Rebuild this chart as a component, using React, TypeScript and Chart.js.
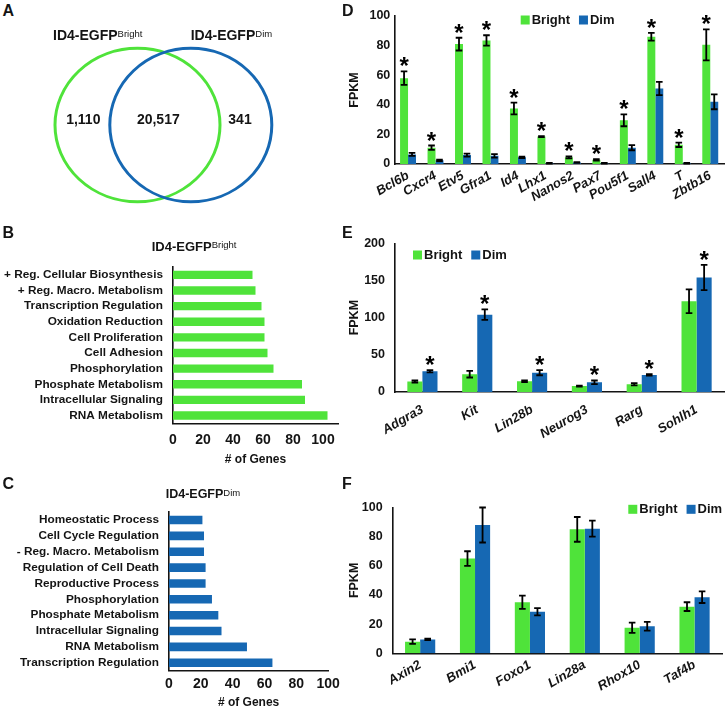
import React, { useEffect, useRef } from 'react';
import { Chart, registerables } from 'chart.js';

Chart.register(...registerables);

const FONT = '"Liberation Sans", Arial, Helvetica, sans-serif';
const GREEN = '#4fe33a';
const BLUE = '#1668b3';
const INK = '#141414';

// ---------- Panel A: Venn ----------
const vennSetLabels = ['Bright', 'Dim'];
const vennCenterX = [97.5, 150.8];
const vennCenterY = [85, 85];
const vennRadiusX = [82.5, 81];
const vennRadiusY = [76.7, 76.7];
const vennCounts = ['1,110', '20,517', '341'];
const vennCountX = [43.3, 118.3, 200];
const vennCountY = [80, 80, 80];

// ---------- Panels B / C ----------
const geneTicks = [0, 20, 40, 60, 80, 100];

const bTerms = [
  '+ Reg. Cellular Biosynthesis',
  '+ Reg. Macro. Metabolism',
  'Transcription Regulation',
  'Oxidation Reduction',
  'Cell Proliferation',
  'Cell Adhesion',
  'Phosphorylation',
  'Phosphate Metabolism',
  'Intracellular Signaling',
  'RNA Metabolism',
];
const bGenes = [53, 55, 59, 61, 61, 63, 67, 86, 88, 103];

const cTerms = [
  'Homeostatic Process',
  'Cell Cycle Regulation',
  '- Reg. Macro. Metabolism',
  'Regulation of Cell Death',
  'Reproductive Process',
  'Phosphorylation',
  'Phosphate Metabolism',
  'Intracellular Signaling',
  'RNA Metabolism',
  'Transcription Regulation',
];
const cGenes = [21, 22, 22, 23, 23, 27, 31, 33, 49, 65];

// ---------- Panel D ----------
const dGenes = ['Bcl6b', 'Cxcr4', 'Etv5', 'Gfra1', 'Id4', 'Lhx1', 'Nanos2', 'Pax7', 'Pou5f1', 'Sall4', 'T', 'Zbtb16'];
const dBright = [58, 11, 81, 83.5, 37.5, 18.5, 4.5, 2.8, 29.5, 86, 13, 80.5];
const dBrightErr = [4.6, 1.5, 4.3, 3.5, 4, 0.3, 0.7, 0.5, 4, 2.6, 1.5, 10.5];
const dDim = [6.5, 2.5, 6, 5.5, 4.5, 0.5, 1, 0.5, 11, 51, 0.5, 42];
const dDimErr = [1, 0.5, 1, 1.2, 0.5, 0.2, 0.3, 0.2, 1.7, 4.5, 0.2, 5];
const dBrightSig = [1, 1, 1, 1, 1, 1, 1, 1, 1, 1, 1, 1];
const dDimSig = [0, 0, 0, 0, 0, 0, 0, 0, 0, 0, 0, 0];

// ---------- Panel E ----------
const eGenes = ['Adgra3', 'Kit', 'Lin28b', 'Neurog3', 'Rarg', 'Sohlh1'];
const eBright = [14, 24, 14.5, 8, 10.5, 122];
const eBrightErr = [1.5, 4.5, 1.2, 0.6, 1.5, 16];
const eDim = [28, 104, 26, 13, 23, 154];
const eDimErr = [1.5, 7, 3.5, 2.5, 1, 17];
const eBrightSig = [0, 0, 0, 0, 0, 0];
const eDimSig = [1, 1, 1, 1, 1, 1];

// ---------- Panel F ----------
const fGenes = ['Axin2', 'Bmi1', 'Foxo1', 'Lin28a', 'Rhox10', 'Taf4b'];
const fBright = [8, 65, 35, 85, 17.5, 32];
const fBrightErr = [1.5, 5, 4.5, 8.5, 3.5, 3];
const fDim = [9.5, 88, 28.5, 85.5, 18.5, 38.5];
const fDimErr = [0.5, 12, 2.5, 5.5, 3, 4];
const fBrightSig = [0, 0, 0, 0, 0, 0];
const fDimSig = [0, 0, 0, 0, 0, 0];

// ---------- plugins ----------
const vennPlugin = {
  id: 'vennShapes',
  afterDatasetsDraw(chart: any) {
    const { ctx } = chart;
    const xs = chart.scales.x;
    const ys = chart.scales.y;
    const colors = [GREEN, BLUE];
    ctx.save();
    vennCenterX.forEach((cx, i) => {
      const px = xs.getPixelForValue(cx);
      const py = ys.getPixelForValue(vennCenterY[i]);
      const rx = Math.abs(xs.getPixelForValue(cx + vennRadiusX[i]) - px);
      const ry = Math.abs(ys.getPixelForValue(vennCenterY[i] + vennRadiusY[i]) - py);
      ctx.beginPath();
      ctx.ellipse(px, py, rx, ry, 0, 0, Math.PI * 2);
      ctx.strokeStyle = colors[i];
      ctx.lineWidth = 3;
      ctx.stroke();
    });
    ctx.fillStyle = INK;
    ctx.font = `bold 14px ${FONT}`;
    ctx.textAlign = 'center';
    ctx.textBaseline = 'middle';
    vennCounts.forEach((t, i) => {
      ctx.fillText(t, xs.getPixelForValue(vennCountX[i]), ys.getPixelForValue(vennCountY[i]));
    });
    ctx.restore();
  },
};

const errorBarPlugin = {
  id: 'errorBars',
  afterDatasetsDraw(chart: any, _args: any, opts: any) {
    const { ctx } = chart;
    const ys = chart.scales.y;
    ctx.save();
    chart.data.datasets.forEach((ds: any, di: number) => {
      const meta = chart.getDatasetMeta(di);
      meta.data.forEach((bar: any, i: number) => {
        const v = ds.data[i];
        const e = ds.errors ? ds.errors[i] : 0;
        const top = ys.getPixelForValue(v + e);
        const bot = ys.getPixelForValue(Math.max(0, v - e));
        if (e > 0) {
          ctx.strokeStyle = '#000';
          ctx.lineWidth = 1.8;
          ctx.beginPath();
          ctx.moveTo(bar.x, top);
          ctx.lineTo(bar.x, bot);
          ctx.moveTo(bar.x - 3.3, top);
          ctx.lineTo(bar.x + 3.3, top);
          ctx.moveTo(bar.x - 3.3, bot);
          ctx.lineTo(bar.x + 3.3, bot);
          ctx.stroke();
        }
        if (ds.sig && ds.sig[i]) {
          ctx.fillStyle = '#000';
          ctx.font = `bold ${opts.starSize}px ${FONT}`;
          ctx.textAlign = 'center';
          ctx.textBaseline = 'alphabetic';
          ctx.fillText('*', bar.x, top + opts.starOffset);
        }
      });
    });
    ctx.restore();
  },
};

const boxLegendPlugin = {
  id: 'boxLegend',
  afterDraw(chart: any, _args: any, opts: any) {
    if (!opts || !opts.show) return;
    const { ctx } = chart;
    ctx.save();
    ctx.font = `bold ${opts.size}px ${FONT}`;
    ctx.textBaseline = 'middle';
    ctx.textAlign = 'left';
    let x = opts.x;
    const y = opts.y;
    const box = opts.box;
    chart.data.datasets.forEach((ds: any) => {
      ctx.fillStyle = ds.backgroundColor;
      ctx.fillRect(x, y - box / 2, box, box);
      x += box + opts.gap;
      ctx.fillStyle = INK;
      ctx.fillText(ds.label, x, y + 0.5);
      x += ctx.measureText(ds.label).width + opts.itemGap;
    });
    ctx.restore();
  },
};

// ---------- chart builders ----------
function vennConfig(): any {
  return {
    type: 'scatter',
    data: {
      datasets: [
        {
          label: 'sets',
          data: vennCenterX.map((x, i) => ({ x, y: vennCenterY[i], name: vennSetLabels[i] })),
          pointRadius: 0,
        },
      ],
    },
    options: {
      animation: false,
      responsive: false,
      devicePixelRatio: 1,
      layout: { padding: 0 },
      scales: {
        x: { display: false, min: 0, max: 250 },
        y: { display: false, min: 0, max: 175, reverse: true },
      },
      plugins: { legend: { display: false }, tooltip: { enabled: false } },
    },
    plugins: [vennPlugin],
  };
}

function hbarConfig(p: any): any {
  return {
    type: 'bar',
    data: {
      labels: p.labels,
      datasets: [
        {
          label: '# of Genes',
          data: p.values,
          backgroundColor: p.color,
          borderWidth: 0,
          barPercentage: 0.54,
          categoryPercentage: 1,
        },
      ],
    },
    options: {
      indexAxis: 'y',
      animation: false,
      responsive: false,
      devicePixelRatio: 1,
      layout: { padding: p.padding },
      scales: {
        x: {
          min: 0,
          max: p.xMax,
          grid: { display: false, drawTicks: false },
          border: { display: true, color: INK, width: 1.6 },
          afterBuildTicks: (s: any) => {
            s.ticks = geneTicks.map((v) => ({ value: v }));
          },
          ticks: {
            padding: p.tickPad,
            color: INK,
            font: { family: FONT, size: 14, weight: 'bold' },
          },
          title: {
            display: true,
            text: '# of Genes',
            color: INK,
            font: { family: FONT, size: 12, weight: 'bold' },
            padding: { top: 0, bottom: p.titlePad },
          },
          afterFit: (s: any) => {
            s.height = p.xHeight;
          },
        },
        y: {
          grid: { display: false, drawTicks: false },
          border: { display: true, color: INK, width: 1.6 },
          ticks: {
            padding: 10,
            color: INK,
            autoSkip: false,
            font: { family: FONT, size: 11.8, weight: 'bold' },
          },
          afterFit: (s: any) => {
            s.width = p.yWidth;
          },
        },
      },
      plugins: { legend: { display: false }, tooltip: { enabled: false } },
    },
  };
}

function vbarConfig(p: any): any {
  return {
    type: 'bar',
    data: {
      labels: p.labels,
      datasets: [
        {
          label: 'Bright',
          data: p.bright,
          errors: p.brightErr,
          sig: p.brightSig,
          backgroundColor: GREEN,
          borderWidth: 0,
          barPercentage: 1,
          categoryPercentage: p.cat,
        },
        {
          label: 'Dim',
          data: p.dim,
          errors: p.dimErr,
          sig: p.dimSig,
          backgroundColor: BLUE,
          borderWidth: 0,
          barPercentage: 1,
          categoryPercentage: p.cat,
        },
      ],
    },
    options: {
      animation: false,
      responsive: false,
      devicePixelRatio: 1,
      layout: { padding: p.padding },
      scales: {
        x: {
          grid: { display: false, drawTicks: false },
          border: { display: true, color: INK, width: 1.6 },
          ticks: {
            autoSkip: false,
            minRotation: 30,
            maxRotation: 30,
            padding: p.xPad,
            color: INK,
            font: { family: FONT, size: 13, weight: 'bold', style: 'italic' },
          },
          afterFit: (s: any) => {
            s.height = p.xHeight;
          },
        },
        y: {
          min: 0,
          max: p.yMax,
          grid: { display: false, drawTicks: false },
          border: { display: true, color: INK, width: 1.6 },
          ticks: {
            stepSize: p.yStep,
            padding: p.yPad,
            color: INK,
            font: { family: FONT, size: 12.5, weight: 'bold' },
          },
          title: {
            display: true,
            text: 'FPKM',
            color: INK,
            font: { family: FONT, size: 12.5, weight: 'bold' },
            padding: { top: 2.5, bottom: 0 },
          },
          afterFit: (s: any) => {
            s.width = p.yWidth;
          },
        },
      },
      plugins: {
        legend: { display: false },
        tooltip: { enabled: false },
        errorBars: { starSize: 24, starOffset: 3 },
        boxLegend: { show: true, x: p.legendX, y: p.legendY, size: 13, box: 9, gap: 2, itemGap: 9 },
      },
    },
    plugins: [errorBarPlugin, boxLegendPlugin],
  };
}

function ChartCanvas({ left, top, width, height, config }: any) {
  const ref = useRef<HTMLCanvasElement | null>(null);
  useEffect(() => {
    if (!ref.current) return;
    const chart = new Chart(ref.current, config);
    return () => chart.destroy();
  }, []);
  return (
    <canvas
      ref={ref}
      width={width}
      height={height}
      style={{ position: 'absolute', left, top, width, height }}
    />
  );
}

function Letter({ x, capTop, text }: any) {
  const size = 16;
  return (
    <div
      style={{
        position: 'absolute',
        left: x,
        top: capTop - 0.13 * size,
        fontFamily: FONT,
        fontWeight: 'bold',
        fontSize: size,
        lineHeight: `${size}px`,
        color: INK,
      }}
    >
      {text}
    </div>
  );
}

function SupTitle({ x, capTop, size, supSize, main, sup }: any) {
  return (
    <div
      style={{
        position: 'absolute',
        left: x,
        top: capTop - 0.13 * size,
        fontFamily: FONT,
        fontWeight: 'bold',
        fontSize: size,
        lineHeight: `${size}px`,
        whiteSpace: 'nowrap',
        color: INK,
      }}
    >
      {main}
      <span
        style={{
          fontSize: supSize,
          fontWeight: 'normal',
          position: 'relative',
          top: -(size - supSize) * 0.716,
        }}
      >
        {sup}
      </span>
    </div>
  );
}

export default function App() {
  const bCfg = hbarConfig({
    labels: bTerms,
    values: bGenes,
    color: GREEN,
    xMax: 110,
    padding: { top: 10, right: 7, left: 0, bottom: 0 },
    yWidth: 173,
    xHeight: 46.7,
    tickPad: 8.3,
    titlePad: 3.5,
  });
  const cCfg = hbarConfig({
    labels: cTerms,
    values: cGenes,
    color: BLUE,
    xMax: 100,
    padding: { top: 8, right: 8, left: 0, bottom: 0 },
    yWidth: 169,
    xHeight: 40.3,
    tickPad: 5.2,
    titlePad: 1.5,
  });
  const dCfg = vbarConfig({
    labels: dGenes,
    bright: dBright,
    brightErr: dBrightErr,
    brightSig: dBrightSig,
    dim: dDim,
    dimErr: dDimErr,
    dimSig: dDimSig,
    cat: 0.58,
    padding: { top: 16, right: 4, left: 0, bottom: 0 },
    yWidth: 49.3,
    xHeight: 51,
    xPad: 4,
    yPad: 4,
    yMax: 100,
    yStep: 20,
    legendX: 175.7,
    legendY: 20,
  });
  const eCfg = vbarConfig({
    labels: eGenes,
    bright: eBright,
    brightErr: eBrightErr,
    brightSig: eBrightSig,
    dim: eDim,
    dimErr: eDimErr,
    dimSig: eDimSig,
    cat: 0.55,
    padding: { top: 18.3, right: 4, left: 0, bottom: 0 },
    yWidth: 50,
    xHeight: 53,
    xPad: 10,
    yPad: 10,
    yMax: 200,
    yStep: 50,
    legendX: 68,
    legendY: 30,
  });
  const fCfg = vbarConfig({
    labels: fGenes,
    bright: fBright,
    brightErr: fBrightErr,
    brightSig: fBrightSig,
    dim: fDim,
    dimErr: fDimErr,
    dimSig: fDimSig,
    cat: 0.55,
    padding: { top: 16, right: 6, left: 0, bottom: 0 },
    yWidth: 47.7,
    xHeight: 57.7,
    xPad: 4,
    yPad: 10,
    yMax: 100,
    yStep: 20,
    legendX: 283.3,
    legendY: 19.3,
  });

  return (
    <div
      style={{
        position: 'absolute',
        left: 0,
        top: 0,
        width: 728,
        height: 711,
        background: '#fff',
        overflow: 'hidden',
      }}
    >
      <ChartCanvas left={40} top={40} width={250} height={175} config={vennConfig()} />
      <ChartCanvas left={0} top={250} width={345} height={220} config={bCfg} />
      <ChartCanvas left={0} top={495} width={345} height={216} config={cCfg} />
      <ChartCanvas left={345} top={0} width={383} height={215} config={dCfg} />
      <ChartCanvas left={345} top={225} width={383} height={220} config={eCfg} />
      <ChartCanvas left={345} top={490} width={383} height={221} config={fCfg} />

      <Letter x={2.5} capTop={5} text="A" />
      <Letter x={2.5} capTop={226.7} text="B" />
      <Letter x={2.5} capTop={478} text="C" />
      <Letter x={342} capTop={5} text="D" />
      <Letter x={342} capTop={227.3} text="E" />
      <Letter x={342} capTop={478} text="F" />

      <SupTitle x={53} capTop={30} size={14} supSize={9.5} main="ID4-EGFP" sup="Bright" />
      <SupTitle x={190.7} capTop={30} size={14} supSize={9.5} main="ID4-EGFP" sup="Dim" />
      <SupTitle x={151.7} capTop={241.5} size={13} supSize={9.5} main="ID4-EGFP" sup="Bright" />
      <SupTitle x={165.7} capTop={490} size={12.5} supSize={9.5} main="ID4-EGFP" sup="Dim" />
    </div>
  );
}
